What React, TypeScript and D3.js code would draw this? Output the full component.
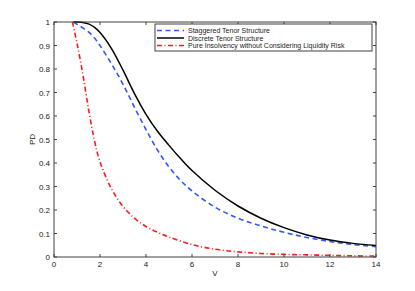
import React, { useEffect, useRef } from 'react';
import * as d3 from 'd3';

const vStaggered = [0.85, 1, 1.25, 1.5, 1.75, 2, 2.5, 3, 3.5, 4, 4.5, 5, 5.5, 6, 7, 8, 9, 10, 11, 12, 13, 14];
const pdStaggered = [1.0, 0.99, 0.975, 0.958, 0.933, 0.9, 0.822, 0.735, 0.637, 0.542, 0.455, 0.383, 0.326, 0.281, 0.212, 0.165, 0.132, 0.105, 0.083, 0.066, 0.053, 0.044];

const vDiscrete = [0.85, 1, 1.25, 1.5, 1.75, 2, 2.5, 3, 3.5, 4, 4.5, 5, 5.5, 6, 7, 8, 9, 10, 11, 12, 13, 14];
const pdDiscrete = [1.0, 1.0, 0.998, 0.992, 0.978, 0.955, 0.887, 0.795, 0.695, 0.607, 0.535, 0.475, 0.419, 0.368, 0.284, 0.217, 0.165, 0.125, 0.094, 0.072, 0.058, 0.049];

const vPure = [0.8, 1, 1.25, 1.5, 1.75, 2, 2.5, 3, 3.5, 4, 4.5, 5, 6, 7, 8, 9, 10, 11, 12, 13, 14];
const pdPure = [1.0, 0.91, 0.78, 0.63, 0.5, 0.405, 0.29, 0.215, 0.165, 0.13, 0.105, 0.085, 0.053, 0.033, 0.022, 0.015, 0.011, 0.009, 0.007, 0.005, 0.004];

const xTicks = [0, 2, 4, 6, 8, 10, 12, 14];
const yTicks = [0, 0.1, 0.2, 0.3, 0.4, 0.5, 0.6, 0.7, 0.8, 0.9, 1];

const seriesNames = [
  'Staggered Tenor Structure',
  'Discrete Tenor Structure',
  'Pure Insolvency without Considering Liquidity Risk',
];

export default function App() {
  const svgRef = useRef<SVGSVGElement>(null);

  useEffect(() => {
    if (!svgRef.current) return;
    const svg = d3.select(svgRef.current);
    svg.selectAll('*').remove();

    const margin = { top: 22, right: 39, bottom: 34, left: 54 };
    const width = 415;
    const height = 291;
    const font = 'Liberation Sans, Arial, sans-serif';
    const axisColor = '#404040';

    const x = d3.scaleLinear().domain([0, 14]).range([margin.left, width - margin.right]);
    const y = d3.scaleLinear().domain([0, 1]).range([height - margin.bottom, margin.top]);

    const series = [
      { v: vStaggered, pd: pdStaggered, color: '#3355ff', dash: '5,3.5', width: 1.6 },
      { v: vDiscrete, pd: pdDiscrete, color: '#000000', dash: null, width: 1.5 },
      { v: vPure, pd: pdPure, color: '#ff1a1a', dash: '5,2.5,1,2.5', width: 1.6 },
    ];

    const line = d3.line<[number, number]>()
      .x(d => x(d[0]))
      .y(d => y(d[1]))
      .curve(d3.curveCatmullRom.alpha(0.5));

    series.forEach(s => {
      const pts: [number, number][] = s.v.map((v, i) => [v, s.pd[i]]);
      svg.append('path')
        .datum(pts)
        .attr('fill', 'none')
        .attr('stroke', s.color)
        .attr('stroke-width', s.width)
        .attr('stroke-dasharray', s.dash)
        .attr('d', line);
    });

    // frame
    const [x0, x1] = x.range();
    const [y0, y1] = y.range();
    svg.append('rect')
      .attr('x', x0).attr('y', y1)
      .attr('width', x1 - x0).attr('height', y0 - y1)
      .attr('fill', 'none').attr('stroke', axisColor).attr('stroke-width', 1);

    const tl = 3;
    xTicks.forEach(t => {
      svg.append('line').attr('x1', x(t)).attr('x2', x(t)).attr('y1', y0).attr('y2', y0 - tl)
        .attr('stroke', axisColor);
      svg.append('line').attr('x1', x(t)).attr('x2', x(t)).attr('y1', y1).attr('y2', y1 + tl)
        .attr('stroke', axisColor);
      svg.append('text').attr('x', x(t)).attr('y', y0 + 10)
        .attr('text-anchor', 'middle').attr('font-family', font).attr('font-size', 8)
        .attr('fill', '#222').text(t);
    });
    yTicks.forEach(t => {
      svg.append('line').attr('x1', x0).attr('x2', x0 + tl).attr('y1', y(t)).attr('y2', y(t))
        .attr('stroke', axisColor);
      svg.append('line').attr('x1', x1).attr('x2', x1 - tl).attr('y1', y(t)).attr('y2', y(t))
        .attr('stroke', axisColor);
      svg.append('text').attr('x', x0 - 4).attr('y', y(t) + 3)
        .attr('text-anchor', 'end').attr('font-family', font).attr('font-size', 8)
        .attr('fill', '#222').text(t);
    });

    svg.append('text').attr('x', (x0 + x1) / 2).attr('y', y0 + 19)
      .attr('text-anchor', 'middle').attr('font-family', font).attr('font-size', 8)
      .attr('fill', '#222').text('V');
    svg.append('text')
      .attr('transform', `translate(35,${(y0 + y1) / 2}) rotate(-90)`)
      .attr('text-anchor', 'middle').attr('font-family', font).attr('font-size', 8)
      .attr('fill', '#222').text('PD');

    // legend
    const lg = svg.append('g').attr('transform', 'translate(155,24)');
    lg.append('rect').attr('width', 217).attr('height', 27)
      .attr('fill', '#fff').attr('stroke', axisColor).attr('stroke-width', 1);
    series.forEach((s, i) => {
      const ly = 6.5 + i * 7.5;
      lg.append('line').attr('x1', 2).attr('x2', 29).attr('y1', ly).attr('y2', ly)
        .attr('stroke', s.color).attr('stroke-width', s.width)
        .attr('stroke-dasharray', s.dash);
      lg.append('text').attr('x', 33).attr('y', ly + 2.5)
        .attr('font-family', font).attr('font-size', 7).attr('fill', '#222')
        .text(seriesNames[i]);
    });
  }, []);

  return (
    <div style={{ position: 'absolute', left: 0, top: 0 }}>
      <svg ref={svgRef} width={415} height={291} style={{ display: 'block', background: '#fff' }} />
    </div>
  );
}
